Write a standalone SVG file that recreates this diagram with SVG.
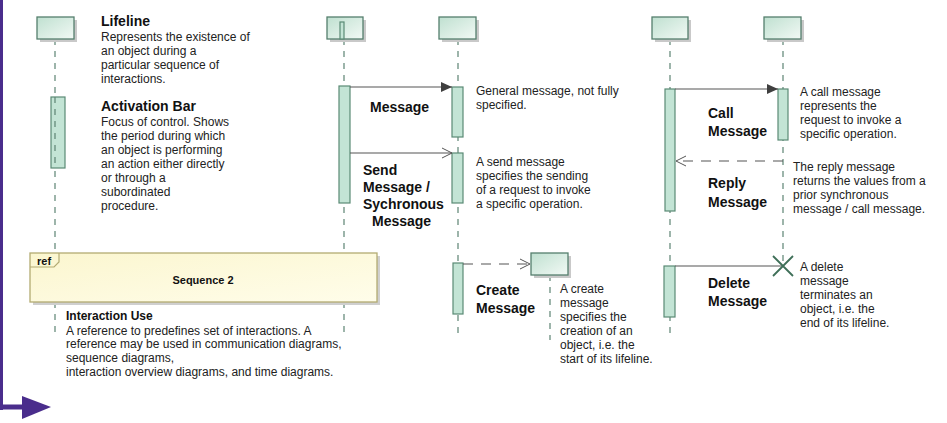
<svg xmlns="http://www.w3.org/2000/svg" width="947" height="423" viewBox="0 0 947 423">
  <defs>
    <linearGradient id="headFill" x1="0" y1="0" x2="1" y2="1">
      <stop offset="0" stop-color="#bfe0d0"/>
      <stop offset="1" stop-color="#f2f9f5"/>
    </linearGradient>
    <linearGradient id="refFill" x1="0" y1="0" x2="1" y2="1">
      <stop offset="0" stop-color="#fbf6cf"/>
      <stop offset="1" stop-color="#fffdea"/>
    </linearGradient>
    <marker id="filled" markerUnits="userSpaceOnUse" markerWidth="12" markerHeight="10" refX="11" refY="5" orient="auto">
      <path d="M0,0 L11,5 L0,10 Z" fill="#3f3f3f"/>
    </marker>
    <marker id="open" markerUnits="userSpaceOnUse" markerWidth="12" markerHeight="12" refX="11" refY="6" orient="auto">
      <path d="M1,1 L11,6 L1,11" fill="none" stroke="#555" stroke-width="1"/>
    </marker>
  </defs>
  <style>
    .head { fill: url(#headFill); stroke: #557f6d; stroke-width: 1.3; }
    .shadow { fill: #c9c9c9; }
    .bar { fill: #c3e4d5; stroke: #5a8a75; stroke-width: 1.2; }
    .life { stroke: #5d8473; stroke-width: 1.2; stroke-dasharray: 6 6; fill: none; }
    .msg { stroke: #555; stroke-width: 1.2; fill: none; }
    .dash { stroke-dasharray: 10 8; }
    .t { font-family: "Liberation Sans", Arial, sans-serif; font-size: 12px; fill: #222; }
    .b { font-family: "Liberation Sans", Arial, sans-serif; font-size: 14px; font-weight: bold; fill: #111; }
    .bs { font-family: "Liberation Sans", Arial, sans-serif; font-size: 12px; font-weight: bold; fill: #111; }
    .bx { font-family: "Liberation Sans", Arial, sans-serif; font-size: 11px; font-weight: bold; fill: #111; }
  </style>

  <rect width="947" height="423" fill="#ffffff"/>

  <!-- page frame accent -->
  <g id="frame-accent">
    <rect x="0" y="0" width="3" height="410" fill="#4a2d8c"/>
    <rect x="0" y="404.5" width="24" height="5" fill="#4a2d8c"/>
    <path d="M22,396 L51,407 L22,419 Z" fill="#4a2d8c"/>
  </g>

  <!-- lifeline stems -->
  <g id="lifelines">
    <line class="life" x1="55" y1="39" x2="55" y2="253"/>
    <line class="life" x1="55" y1="302" x2="55" y2="338"/>
    <line class="life" x1="344" y1="39" x2="344" y2="253"/>
    <line class="life" x1="344" y1="302" x2="344" y2="338"/>
    <line class="life" x1="458" y1="39" x2="458" y2="338"/>
    <line class="life" x1="550" y1="275" x2="550" y2="340"/>
    <line class="life" x1="670" y1="39" x2="670" y2="338"/>
    <line class="life" x1="783" y1="39" x2="783" y2="262"/>
  </g>

  <!-- Lifeline legend -->
  <g id="lifeline-legend">
    <rect class="shadow" x="40" y="20" width="37" height="22"/>
    <rect class="head" x="37" y="17" width="37" height="22"/>
    <text class="b" x="101" y="26">Lifeline</text>
    <text class="t" x="101" y="40.5">Represents the existence of</text>
    <text class="t" x="101" y="54.7">an object during a</text>
    <text class="t" x="101" y="68.9">particular sequence of</text>
    <text class="t" x="101" y="83.1">interactions.</text>
  </g>

  <!-- Activation bar legend -->
  <g id="activation-legend">
    <rect class="bar" x="51" y="97" width="14" height="71"/>
    <line class="life" x1="55" y1="97" x2="55" y2="168" stroke-width="1"/>
    <text class="b" x="101" y="111">Activation Bar</text>
    <text class="t" x="101" y="125.5">Focus of control. Shows</text>
    <text class="t" x="101" y="139.6">the period during which</text>
    <text class="t" x="101" y="153.7">an object is performing</text>
    <text class="t" x="101" y="167.8">an action either directly</text>
    <text class="t" x="101" y="181.9">or through a</text>
    <text class="t" x="101" y="196">subordinated</text>
    <text class="t" x="101" y="210.1">procedure.</text>
  </g>

  <!-- Sender lifeline (message pair) -->
  <g id="sender">
    <rect class="shadow" x="330" y="20" width="36" height="22"/>
    <rect class="head" x="327" y="17" width="36" height="22"/>
    <rect class="bar" x="340" y="22" width="4" height="17"/>
    <rect class="bar" x="339" y="86" width="11" height="117"/>
  </g>

  <!-- Receiver lifeline (message pair) -->
  <g id="receiver">
    <rect class="shadow" x="442" y="20" width="37" height="22"/>
    <rect class="head" x="439" y="17" width="37" height="22"/>
    <rect class="bar" x="452" y="87" width="11" height="50"/>
    <rect class="bar" x="452" y="153" width="11" height="50"/>
    <rect class="bar" x="453" y="263" width="10" height="51"/>
  </g>

  <!-- Created object -->
  <g id="created">
    <rect class="shadow" x="534" y="256" width="37" height="22"/>
    <rect class="head" x="531" y="253" width="37" height="22"/>
  </g>

  <!-- Caller lifeline -->
  <g id="caller">
    <rect class="shadow" x="655" y="20" width="36" height="22"/>
    <rect class="head" x="652" y="17" width="36" height="22"/>
    <rect class="bar" x="665" y="89" width="10" height="122"/>
    <rect class="bar" x="664" y="266" width="11" height="51"/>
  </g>

  <!-- Callee lifeline -->
  <g id="callee">
    <rect class="shadow" x="767" y="20" width="37" height="22"/>
    <rect class="head" x="764" y="17" width="37" height="22"/>
    <rect class="bar" x="778" y="89" width="10" height="51"/>
  </g>

  <!-- Interaction use -->
  <g id="interaction-use">
    <rect x="33" y="256" width="347" height="49" fill="#cfcfcf"/>
    <rect x="30" y="253" width="347" height="49" fill="url(#refFill)" stroke="#b3ab72" stroke-width="1.3"/>
    <path d="M30,267 H54 L59,262 V253" fill="none" stroke="#b3ab72" stroke-width="1.2"/>
    <text class="bx" x="37" y="265">ref</text>
    <text class="bx" x="203" y="284" text-anchor="middle">Sequence 2</text>
    <text class="bs" x="66" y="320">Interaction Use</text>
    <text class="t" x="66" y="334.5">A reference to predefines set of interactions. A</text>
    <text class="t" x="66" y="348.4">reference may be used in communication diagrams,</text>
    <text class="t" x="66" y="362.3">sequence diagrams,</text>
    <text class="t" x="66" y="376.2">interaction overview diagrams, and time diagrams.</text>
  </g>

  <!-- messages -->
  <g id="connectors">
    <line class="msg" x1="350" y1="87" x2="452" y2="87" marker-end="url(#filled)"/>
    <line class="msg" x1="350" y1="153" x2="452" y2="153" marker-end="url(#open)"/>
    <line class="msg dash" x1="463" y1="264" x2="530" y2="264" marker-end="url(#open)"/>
    <line class="msg" x1="675" y1="89" x2="778" y2="89" marker-end="url(#filled)"/>
    <line class="msg dash" x1="783" y1="161" x2="676" y2="161" marker-end="url(#open)"/>
    <line class="msg" x1="675" y1="266" x2="783" y2="266"/>
    <path d="M773,256 L793,276 M793,256 L773,276" stroke="#3f6f58" stroke-width="1.8" fill="none"/>
  </g>

  <!-- message labels -->
  <g id="labels">
    <text class="b" x="370" y="112">Message</text>
    <text class="t" x="476" y="94.5">General message, not fully</text>
    <text class="t" x="476" y="108.5">specified.</text>

    <text class="b" x="363" y="175">Send</text>
    <text class="b" x="363" y="192">Message /</text>
    <text class="b" x="363" y="209">Sychronous</text>
    <text class="b" x="372" y="226">Message</text>
    <text class="t" x="476" y="165.5">A send message</text>
    <text class="t" x="476" y="179.5">specifies the sending</text>
    <text class="t" x="476" y="193.5">of a request to invoke</text>
    <text class="t" x="476" y="207.5">a specific operation.</text>

    <text class="b" x="476" y="295">Create</text>
    <text class="b" x="476" y="313">Message</text>
    <text class="t" x="560" y="292.5">A create</text>
    <text class="t" x="560" y="306.5">message</text>
    <text class="t" x="560" y="320.5">specifies the</text>
    <text class="t" x="560" y="334.5">creation of an</text>
    <text class="t" x="560" y="348.5">object, i.e. the</text>
    <text class="t" x="560" y="362.5">start of its lifeline.</text>

    <text class="b" x="708" y="118">Call</text>
    <text class="b" x="708" y="136">Message</text>
    <text class="t" x="800" y="95.5">A call message</text>
    <text class="t" x="800" y="109.5">represents the</text>
    <text class="t" x="800" y="123.5">request to invoke a</text>
    <text class="t" x="800" y="137.5">specific operation.</text>

    <text class="b" x="708" y="188">Reply</text>
    <text class="b" x="708" y="206.5">Message</text>
    <text class="t" x="793" y="170.5">The reply message</text>
    <text class="t" x="793" y="184.5">returns the values from a</text>
    <text class="t" x="793" y="198.5">prior synchronous</text>
    <text class="t" x="793" y="212.5">message / call message.</text>

    <text class="b" x="708" y="288">Delete</text>
    <text class="b" x="708" y="306">Message</text>
    <text class="t" x="800" y="270.5">A delete</text>
    <text class="t" x="800" y="284.5">message</text>
    <text class="t" x="800" y="298.5">terminates an</text>
    <text class="t" x="800" y="313">object, i.e. the</text>
    <text class="t" x="800" y="327">end of its lifeline.</text>
  </g>
</svg>
